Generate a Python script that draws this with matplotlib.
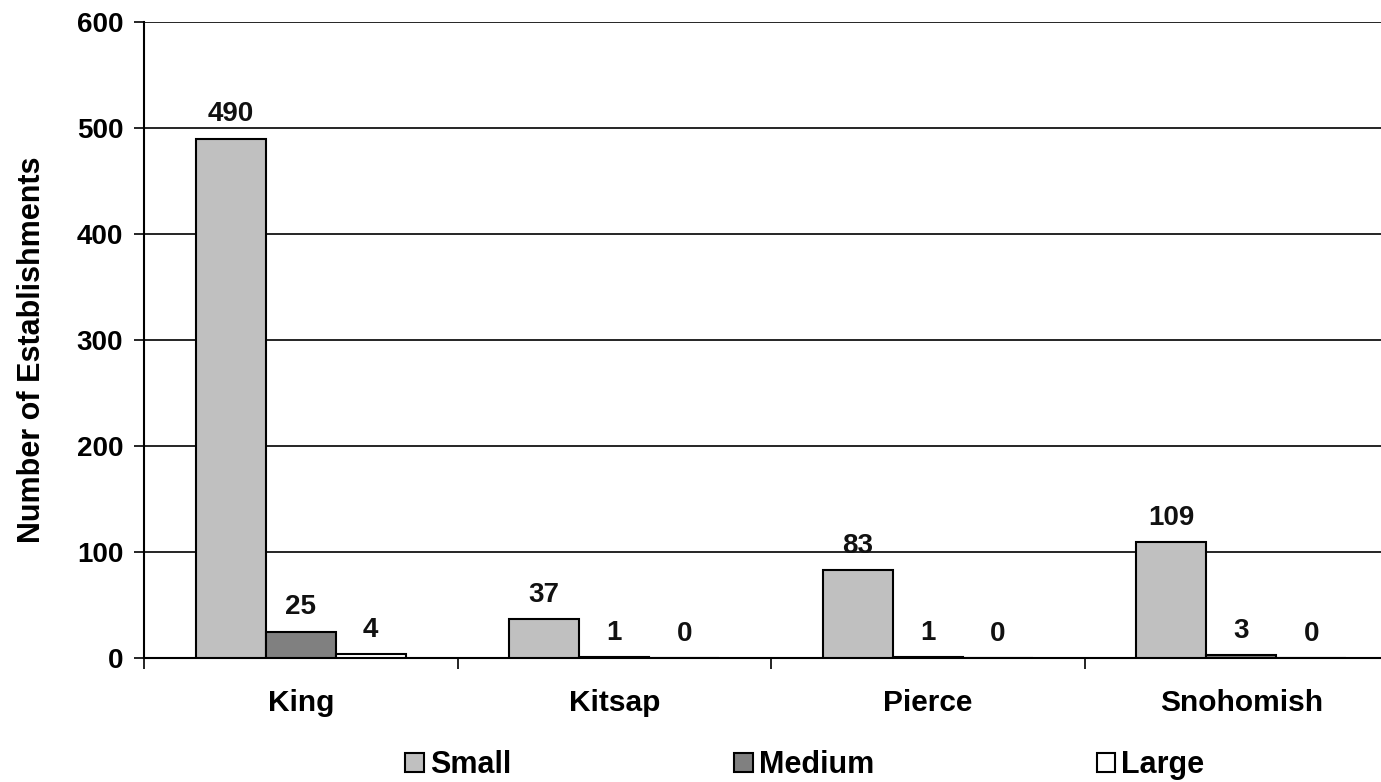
import matplotlib.pyplot as plt
import numpy as np

plt.rcParams['font.family'] = ['Liberation Sans', 'DejaVu Sans']
plt.rcParams['font.weight'] = 'bold'

counties = ['King', 'Kitsap', 'Pierce', 'Snohomish']
sizes = ['Small', 'Medium', 'Large']
small = [490, 37, 83, 109]
medium = [25, 1, 1, 3]
large = [4, 0, 0, 0]
y_ticks = [0, 100, 200, 300, 400, 500, 600]

colors = ['#c0c0c0', '#808080', '#ffffff']
bar_w = 0.223

fig = plt.figure(figsize=(13.81, 7.82), dpi=100)
ax = fig.add_axes([144 / 1381, 1 - 658 / 782, (1398 - 144) / 1381, 636 / 782])

x = np.arange(len(counties)) + 0.5
handles = []
for i, (name, vals) in enumerate(zip(sizes, [small, medium, large])):
    pos = x + (i - 1) * bar_w
    b = ax.bar(pos, vals, width=bar_w, color=colors[i], edgecolor='black',
               linewidth=1.5, zorder=3, label=name)
    handles.append(b)
    for px, v in zip(pos, vals):
        ax.annotate(str(v), (px, v), xytext=(0, 8), textcoords='offset points',
                    ha='center', va='bottom', fontsize=20, fontweight='bold',
                    color='#111111', zorder=4)

ax.set_xlim(0, len(counties))
ax.set_ylim(0, 600)
ax.set_yticks(y_ticks)
ax.tick_params(axis='y', labelsize=20, length=7, width=1.2, direction='out', pad=8)
ax.yaxis.grid(True, color='black', linewidth=1.2, zorder=0)
ax.set_axisbelow(True)

# category boundaries get the tick marks, names sit between them
ax.set_xticks(np.arange(len(counties) + 1))
ax.set_xticklabels([])
ax.set_xticks(x, minor=True)
ax.set_xticklabels(counties, minor=True)
ax.tick_params(axis='x', which='major', length=8, width=1.2, direction='out')
ax.tick_params(axis='x', which='minor', length=0, labelsize=21.5, pad=22)

for s in ['top', 'right']:
    ax.spines[s].set_visible(False)
for s in ['left', 'bottom']:
    ax.spines[s].set_linewidth(1.5)

ax.set_ylabel('Number of Establishments', fontsize=22, fontweight='bold')
ax.yaxis.set_label_coords(-0.0773, 0.484)

fig.legend(handles=handles, labels=sizes, loc='center', bbox_to_anchor=(805 / 1381, 1 - 765 / 782),
           ncol=3, frameon=False, fontsize=22, handlelength=0.6, handleheight=0.6,
           handletextpad=0.2, columnspacing=7.3, borderpad=0.1)

fig.savefig('out.png', dpi=100)
